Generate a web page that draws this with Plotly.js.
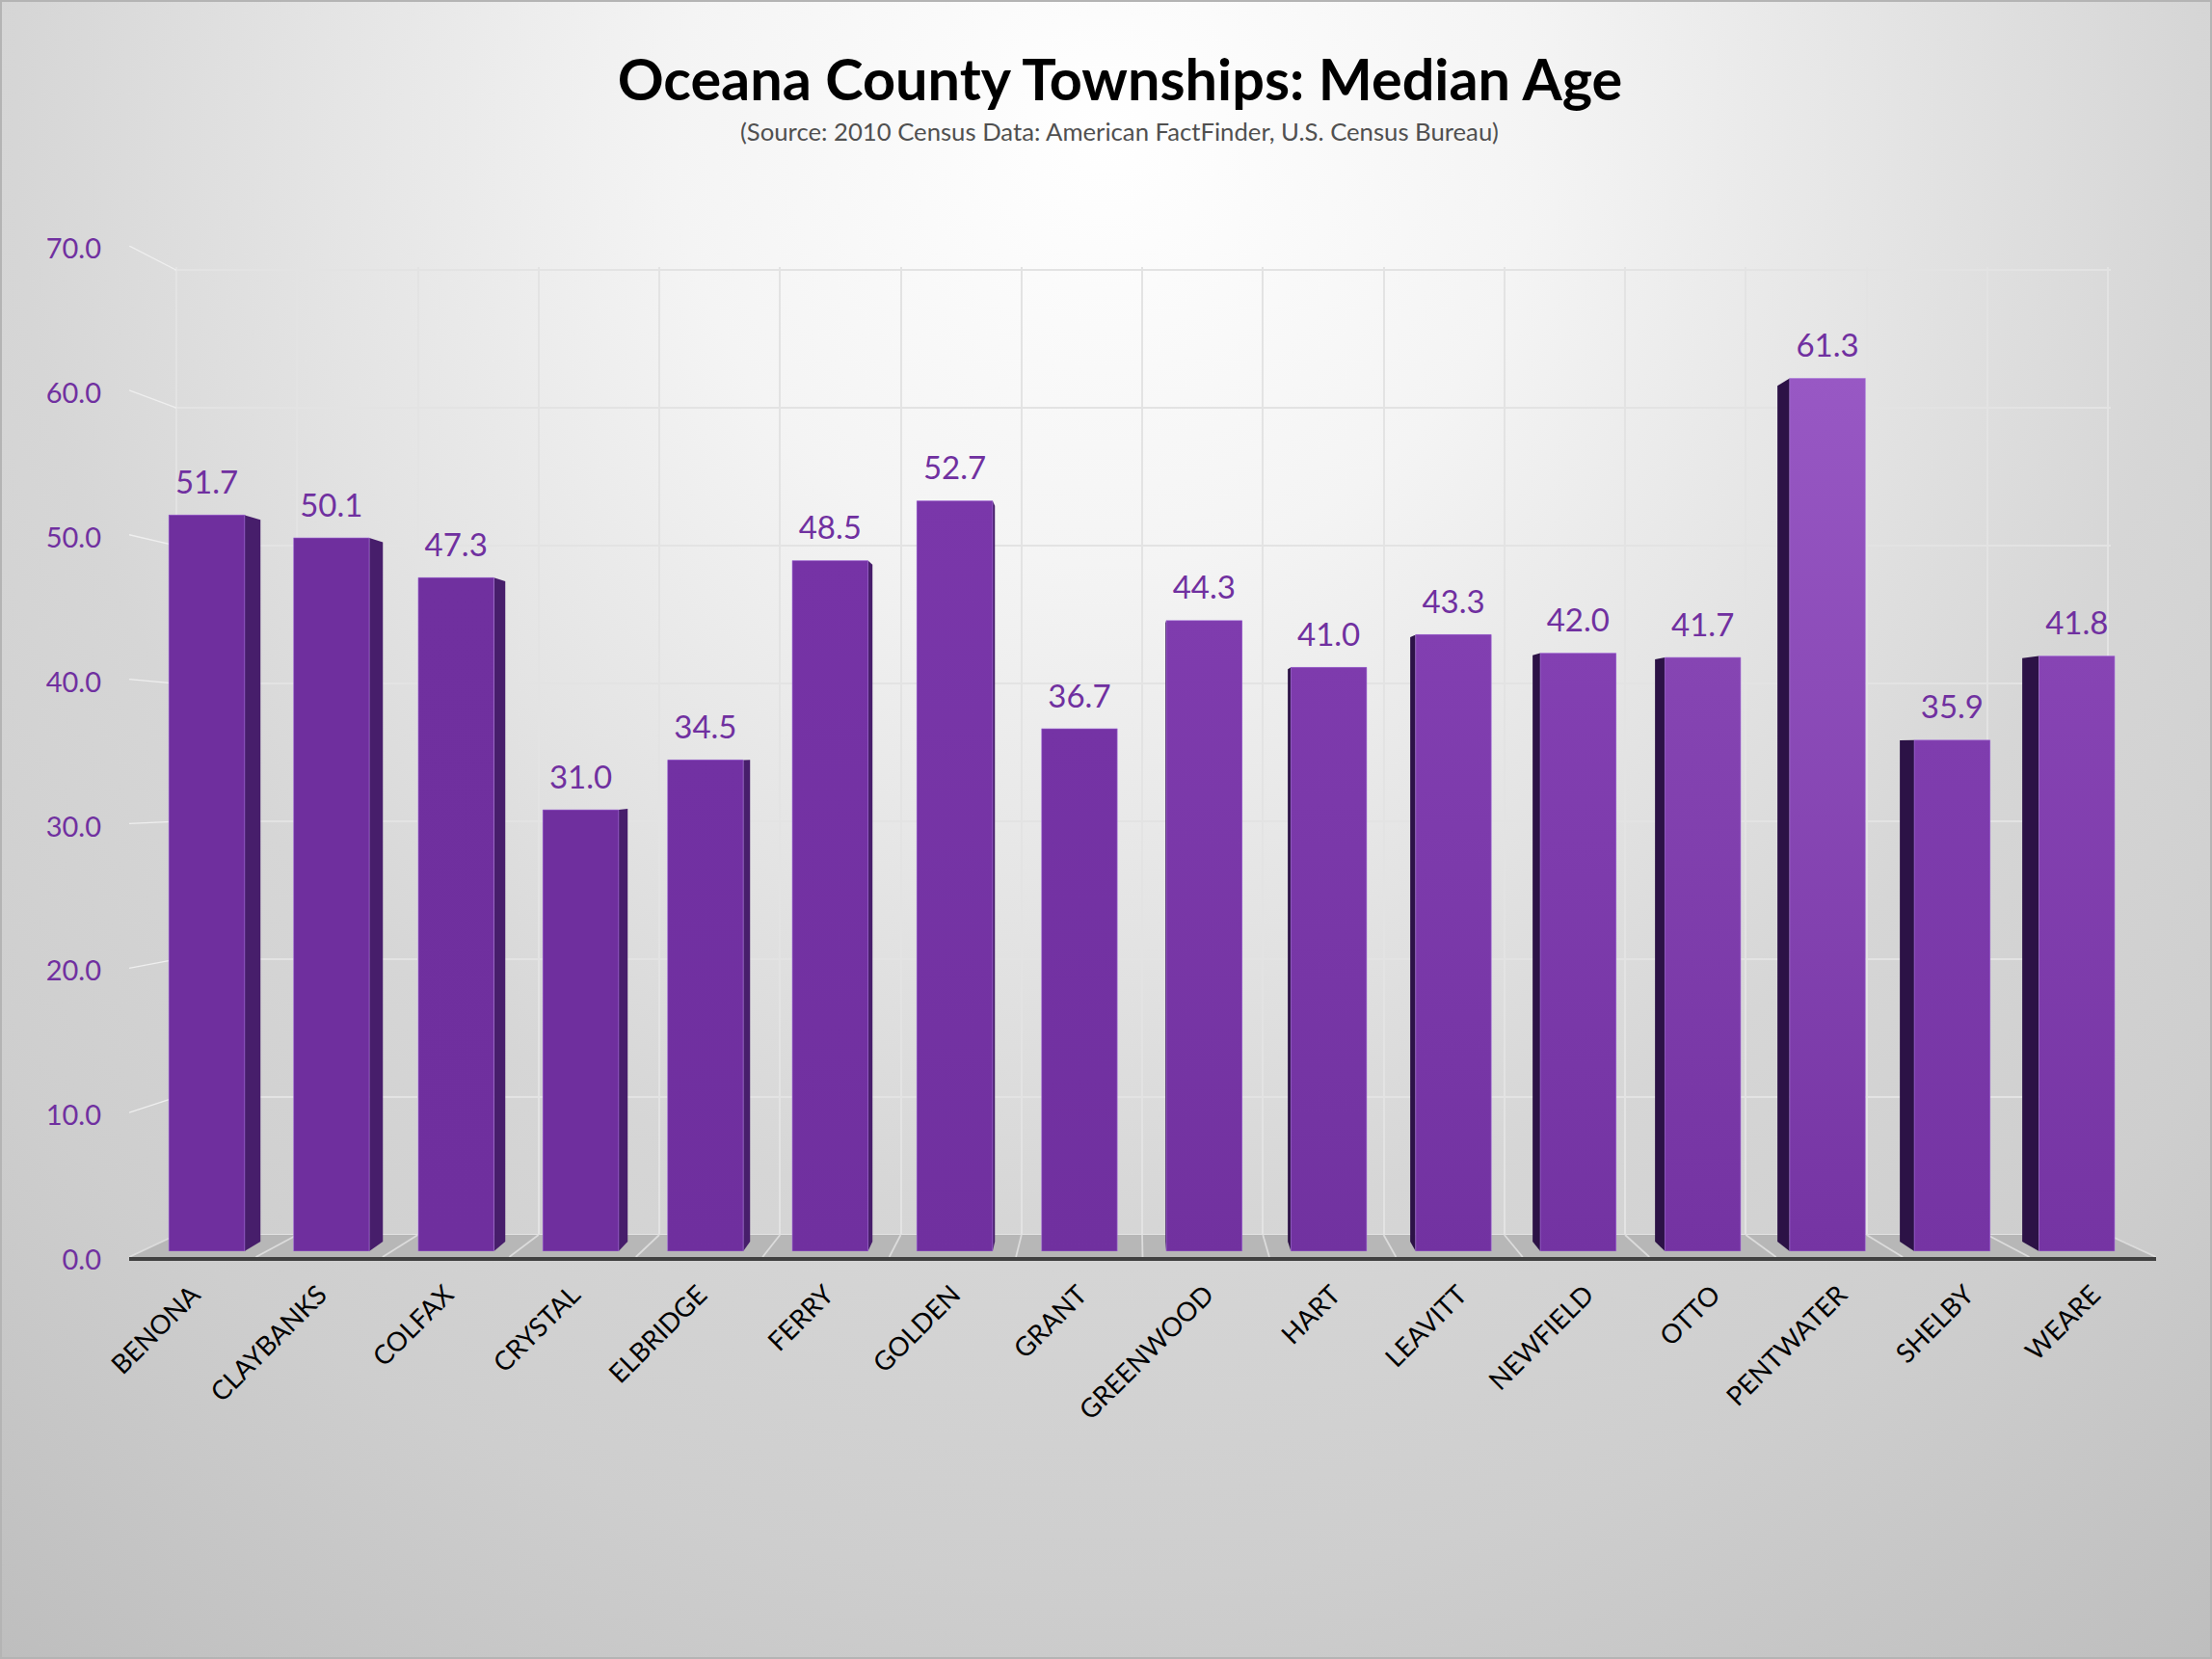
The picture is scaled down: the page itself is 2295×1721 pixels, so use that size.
<!DOCTYPE html>
<html>
<head>
<meta charset="utf-8">
<script src="https://cdn.plot.ly/plotly-3.0.1.min.js"></script>
<style>
html,body{margin:0;padding:0;width:2295px;height:1721px;overflow:hidden;}
body{background:radial-gradient(ellipse 1950px 1950px at 50% 8%,#ffffff 0%,#f4f4f4 23%,#e4e4e4 42%,#d6d6d6 58%,#cecece 77%,#bebebe 100%);box-shadow:inset 0 0 0 2px #b4b4b4;}
#chart{width:2295px;height:1721px;}
</style>
</head>
<body>
<div id="chart"></div>
<script>
var townships=["BENONA","CLAYBANKS","COLFAX","CRYSTAL","ELBRIDGE","FERRY","GOLDEN","GRANT","GREENWOOD","HART","LEAVITT","NEWFIELD","OTTO","PENTWATER","SHELBY","WEARE"];
var medianAge=[51.7,50.1,47.3,31.0,34.5,48.5,52.7,36.7,44.3,41.0,43.3,42.0,41.7,61.3,35.9,41.8];
var topColors=["#6f2f9e","#6f2f9e","#70309f","#6f2f9e","#7231a3","#7633a6","#7a37aa","#7533a5","#7f3cae","#7e3bad","#823fb1","#8340b2","#8645b3","#9858c4","#7f3dae","#8744b4"];
var bottomColors=["#6f2f9e","#6f2f9e","#6f2f9e","#6f2f9e","#6f2f9e","#70309f","#70309f","#70309f","#71319f","#7132a0","#7232a1","#7333a2","#7433a2","#7534a3","#7534a3","#7534a3"];
var yTicks=[0,10,20,30,40,50,60,70];

var W=2295,H=1721;
function px(a,b){return [a/W,b/W];}
function py(bottom,top){return [(H-bottom)/H,(H-top)/H];}

// projection constants between the chart's planes
var PITCH=129.35,CENTER0=214.5,BARW=78.5/129.35;
var VANISH=(1160-CENTER0)/PITCH,DEPTH=0.0182;
function backY(v){return 0.677+0.9804*v;}     // bar back plane, in bar-plane units
function wallOnFront(v){return 1.534+0.954*v;} // wall height, in front-plane units
var FLOOR_L=0.373,FLOOR_R=15.62;
var idx=townships.map(function(_,i){return i;});

var traces=[];
// wall subplot (x,y): carries the gridlines
traces.push({type:'scatter',mode:'none',x:[0,16],y:[0,70],xaxis:'x',yaxis:'y',showlegend:false,hoverinfo:'skip'});

// floor and perspective lines (x2,y2)
traces.push({type:'scatter',mode:'lines',x:[0,16,FLOOR_R,FLOOR_L,0],y:[0,0,1.534,1.534,0],fill:'toself',fillcolor:'#b7b7b7',line:{width:0,color:'#b7b7b7'},xaxis:'x2',yaxis:'y2',showlegend:false,hoverinfo:'skip'});
for(var d=0;d<=16;d++){
  traces.push({type:'scatter',mode:'lines',x:[d,FLOOR_L+d*(FLOOR_R-FLOOR_L)/16],y:[0,1.534],line:{color:'#dcdcdc',width:1.8},xaxis:'x2',yaxis:'y2',showlegend:false,hoverinfo:'skip'});
}
yTicks.forEach(function(v){
  if(v===0)return;
  traces.push({type:'scatter',mode:'lines',x:[0,FLOOR_L],y:[v,wallOnFront(v)],line:{color:'#efefef',width:1.3},xaxis:'x2',yaxis:'y2',showlegend:false,hoverinfo:'skip'});
});

// front axis: category labels and value labels on the front plane (x2,y4)
traces.push({type:'scatter',mode:'none',x:[0,16],y:[0,70],xaxis:'x2',yaxis:'y4',showlegend:false,hoverinfo:'skip'});

// bars (x3,y3)
traces.push({type:'bar',x:idx,y:medianAge,width:BARW,customdata:townships,
  marker:{color:bottomColors,line:{width:0}},xaxis:'x3',yaxis:'y3',showlegend:false,hovertemplate:'%{customdata}: %{y:.1f}<extra></extra>'});

medianAge.forEach(function(v,i){
  var L=i-BARW/2,R=i+BARW/2;
  var edge=null,col;
  if(R<VANISH){edge=R;col='#471e6b';}
  else if(L>VANISH){edge=L;col='#2c1246';}
  if(edge!==null){
    var bx=edge+DEPTH*(VANISH-edge);
    traces.push({type:'scatter',mode:'lines',x:[edge,bx,bx,edge,edge],y:[0,backY(0),backY(v),v,0],fill:'toself',fillcolor:col,line:{width:0,color:col},xaxis:'x3',yaxis:'y3',showlegend:false,hoverinfo:'skip'});
  }
  traces.push({type:'scatter',mode:'lines',x:[L,R,R,L,L],y:[0,0,v,v,0],fill:'toself',
    fillgradient:{type:'vertical',colorscale:[[0,bottomColors[i]],[1,topColors[i]]]},
    line:{width:1,color:'rgba(170,120,220,0.6)'},xaxis:'x3',yaxis:'y3',showlegend:false,hoverinfo:'skip'});
});

// value labels
traces.push({type:'scatter',mode:'text',x:idx,y:medianAge.map(function(v){return v+2.07;}),
  text:medianAge.map(function(v){return v.toFixed(1);}),textposition:'middle center',
  textfont:{family:'Lato, sans-serif',size:33,color:'#7030a0'},xaxis:'x3',yaxis:'y3',showlegend:false,hoverinfo:'skip',cliponaxis:false});

var layout={
  width:W,height:H,margin:{l:0,r:0,t:0,b:0,pad:0},
  paper_bgcolor:'rgba(0,0,0,0)',plot_bgcolor:'rgba(0,0,0,0)',
  showlegend:false,bargap:0,hovermode:'closest',
  font:{family:'Lato, sans-serif'},
  title:{text:'Oceana County Townships: Median Age',font:{family:'Lato, sans-serif',size:59.4,color:'#000000',weight:700},
    xref:'container',yref:'container',x:1162/W,xanchor:'center',y:1-83/H,yanchor:'middle'},
  annotations:[{text:'(Source: 2010 Census Data: American FactFinder, U.S. Census Bureau)',xref:'paper',yref:'paper',x:1161/W,y:1-136.5/H,
    xanchor:'center',yanchor:'middle',showarrow:false,font:{family:'Lato, sans-serif',size:25.7,color:'#505050'}}],
  // back wall; ranges run slightly past the edges so the border gridlines are drawn
  xaxis:{domain:px(180.5,2189.5),range:[-0.02,16.02],tick0:0,dtick:1,showgrid:true,gridcolor:'#e3e3e3',gridwidth:2,zeroline:false,showticklabels:false,ticks:'',showline:false,anchor:'y'},
  yaxis:{domain:py(1283.9,277.1),range:[-0.2,70.2],tick0:0,dtick:10,showgrid:true,gridcolor:'#e3e3e3',gridwidth:2,zeroline:false,showticklabels:false,ticks:'',showline:false,anchor:'x'},
  // front plane: floor, perspective lines, category axis at the front edge of the floor
  xaxis2:{domain:px(134,2237),range:[0,16],anchor:'y4',showgrid:false,zeroline:false,
    tickmode:'array',tickvals:idx.map(function(i){return i+0.5;}),ticktext:townships,tickangle:-45,ticks:'',
    tickfont:{family:'Lato, sans-serif',size:27.5,color:'#000000'},ticklabelstandoff:8,
    showline:true,linecolor:'#404040',linewidth:4},
  yaxis2:{domain:py(1304,255),range:[0,70],visible:false,anchor:'x2',fixedrange:true},
  // bars
  xaxis3:{domain:px(134,2237),range:[(134-CENTER0)/PITCH,(2237-CENTER0)/PITCH],visible:false,anchor:'y3',fixedrange:true},
  yaxis3:{domain:py(1298,264),range:[0,70],visible:false,anchor:'x3',fixedrange:true},
  // value axis on the front plane
  yaxis4:{domain:py(1304,255),range:[0,70],anchor:'x2',tickmode:'array',tickvals:yTicks,ticktext:yTicks.map(function(v){return v.toFixed(1);}),
    showgrid:false,zeroline:false,showline:false,ticks:'',ticklabelstandoff:28,ticklabelshift:3,
    tickfont:{family:'Lato, sans-serif',size:29,color:'#7030a0'}}
};
Plotly.newPlot('chart',traces,layout,{displayModeBar:false});
</script>
</body>
</html>
